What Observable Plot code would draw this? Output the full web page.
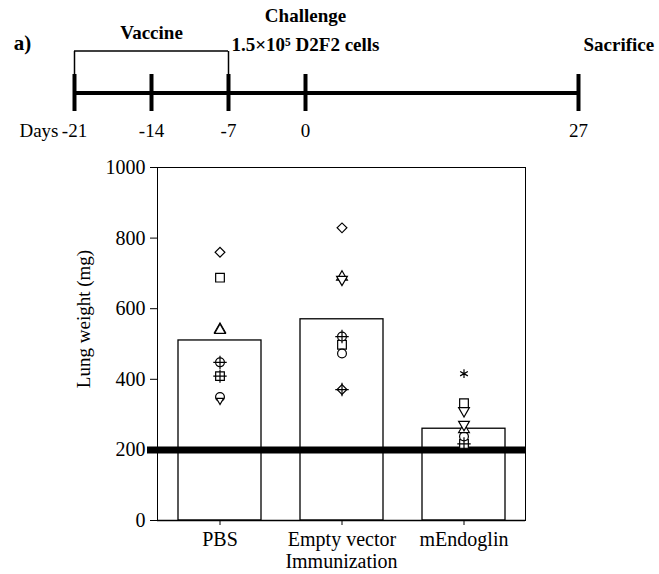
<!DOCTYPE html>
<html>
<head>
<meta charset="utf-8">
<script src="https://cdn.jsdelivr.net/npm/d3@7"></script>
<script src="https://cdn.jsdelivr.net/npm/@observablehq/plot@0.6"></script>
<style>
  html, body { margin: 0; padding: 0; background: #fff; }
  #chart svg { display: block; }
  #chart svg text { font-family: "Liberation Serif", "Times New Roman", serif; }
</style>
</head>
<body>
<div id="chart"></div>
<script>
// ---- Timeline data ----
const timelineDays = [-21, -14, -7, 0, 27];
const vaccineSpan = [-21, -7];
const vaccineLabel = "Vaccine";
const challengeDay = 0;
const challengeLabel = ["Challenge", "1.5×10⁵ D2F2 cells"];
const sacrificeDay = 27;
const sacrificeLabel = "Sacrifice";
const panelLabel = "a)";
const daysLabel = "Days";

// ---- Bar chart data ----
const groups = ["PBS", "Empty vector", "mEndoglin"];
const groupMeans = [510, 570, 260];
const thresholdValue = [200];
const yTicks = [0, 200, 400, 600, 800, 1000];

// individual animals: lung weight and marker, per group
const pbsValues    = [760, 688, 542, 539, 448, 448, 409, 409, 350, 340];
const pbsMarkers   = ["diamond", "square", "triangle", "triangle", "circle", "plus", "square", "plus", "circle", "tipDown"];
const emptyValues  = [829, 690, 683, 521, 521, 498, 473, 371, 371];
const emptyMarkers = ["diamond", "triangle", "triangleDown", "circle", "plus", "square", "circle", "diamond", "plus"];
const endoValues   = [416, 332, 311, 272, 258, 238, 217, 217];
const endoMarkers  = ["asterisk", "square", "triangleDown", "triangleDown", "triangle", "circle", "square", "plus"];

const animals = [
  ...pbsValues.map((v, i) => ({group: groups[0], value: v, marker: pbsMarkers[i]})),
  ...emptyValues.map((v, i) => ({group: groups[1], value: v, marker: emptyMarkers[i]})),
  ...endoValues.map((v, i) => ({group: groups[2], value: v, marker: endoMarkers[i]}))
];
const bars = groups.map((g, i) => ({group: g, mean: groupMeans[i]}));

const serif = "Liberation Serif, Times New Roman, serif";
const W = 659;

// marker styles
const markerStyle = {
  diamond:      {symbol: "square",   r: 3.9, rotate: 45},
  square:       {symbol: "square",   r: 4.9, rotate: 0},
  circle:       {symbol: "circle",   r: 4.4, rotate: 0},
  triangle:     {symbol: "triangle", r: 4.0, rotate: 0},
  triangleDown: {symbol: "triangle", r: 4.0, rotate: 180},
  tipDown:      {symbol: "triangle", r: 2.6, rotate: 180},
  plus:         {symbol: "plus",     r: 4.4, rotate: 0},
  asterisk:     {symbol: "asterisk", r: 4.2, rotate: 0}
};
const markerMarks = Object.entries(markerStyle).map(([key, st]) =>
  Plot.dot(animals.filter(d => d.marker === key), {
    x: "group", y: "value", symbol: () => st.symbol, r: st.r, rotate: st.rotate,
    fill: key === "asterisk" || key === "plus" ? "none" : "white",
    stroke: "black", strokeWidth: 1.2
  })
);

const F = 19;

// ---- Timeline plot ----
const timeline = Plot.plot({
  width: W, height: 145,
  marginLeft: 0, marginRight: 0, marginTop: 0, marginBottom: 0,
  style: {fontFamily: serif, background: "white", color: "black"},
  x: {type: "linear", domain: [-21, 0, 27], range: [74, 305, 578]},
  y: {type: "linear", domain: [-1, 1], range: [111, 74]},
  marks: [
    Plot.ruleY([0], {x1: d3.min(timelineDays), x2: d3.max(timelineDays), stroke: "black", strokeWidth: 4}),
    Plot.ruleX(timelineDays, {x: d => d, y1: -1, y2: 1, stroke: "black", strokeWidth: 4}),
    // vaccine bracket
    Plot.ruleY([0], {x1: vaccineSpan[0], x2: vaccineSpan[1], dy: -42, stroke: "black", strokeWidth: 1.5}),
    Plot.ruleX(vaccineSpan, {x: d => d, y1: 1, y2: 1, insetTop: -23, stroke: "black", strokeWidth: 1.5}),
    Plot.text([vaccineLabel], {x: d3.mean(vaccineSpan), y: 0, dy: -60, text: d => d, fontWeight: "bold", fontSize: F, fontFamily: serif}),
    Plot.text([challengeLabel[0]], {x: challengeDay, y: 0, dy: -77, text: d => d, fontWeight: "bold", fontSize: F, fontFamily: serif}),
    Plot.text([challengeLabel[1]], {x: challengeDay, y: 0, dy: -48, text: d => d, fontWeight: "bold", fontSize: F, fontFamily: serif}),
    Plot.text([sacrificeLabel], {x: sacrificeDay, y: 0, dx: 5, dy: -48, textAnchor: "start", text: d => d, fontWeight: "bold", fontSize: F, fontFamily: serif}),
    Plot.text([panelLabel], {x: d3.min(timelineDays), y: 0, dx: -52, dy: -50, text: d => d, fontWeight: "bold", fontSize: 21, fontFamily: serif}),
    Plot.text(timelineDays, {x: d => d, y: 0, dy: 38, text: d => String(d), fontSize: F, fontFamily: serif}),
    Plot.text([daysLabel], {x: d3.min(timelineDays), y: 0, dx: -16, dy: 38, textAnchor: "end", text: d => d, fontSize: F, fontFamily: serif})
  ]
});

// ---- Bar chart ----
const chart = Plot.plot({
  width: W, height: 429,
  marginLeft: 157, marginRight: 134, marginTop: 22, marginBottom: 54,
  style: {fontFamily: serif, fontSize: F + "px", background: "white", color: "black"},
  x: {domain: groups, paddingInner: 0.32, paddingOuter: 0.16, label: null},
  y: {domain: [0, 1000], label: null},
  marks: [
    Plot.frame({stroke: "black", strokeWidth: 1}),
    Plot.barY(bars, {x: "group", y: "mean", fill: "white", stroke: "black", strokeWidth: 1.3}),
    Plot.ruleY(thresholdValue, {stroke: "black", strokeWidth: 7, insetLeft: -10}),
    Plot.ruleY([0], {stroke: "black", strokeWidth: 1.3}),
    Plot.axisY({ticks: yTicks, tickSize: 7, tickPadding: 5, fontSize: 20, fontFamily: serif, label: null, tickFormat: d => String(d)}),
    Plot.axisX({tickSize: 5, tickPadding: 6, fontSize: 20, fontFamily: serif, label: null}),
    Plot.text(["Immunization"], {frameAnchor: "bottom", dy: 47, text: d => d, fontSize: 20, fontFamily: serif}),
    Plot.text(["Lung weight (mg)"], {frameAnchor: "left", textAnchor: "middle", rotate: -90, dx: -74, dy: -25, text: d => d, fontSize: F, fontFamily: serif}),
    ...markerMarks
  ]
});

const root = document.getElementById("chart");
root.appendChild(timeline);
root.appendChild(chart);
</script>
</body>
</html>
